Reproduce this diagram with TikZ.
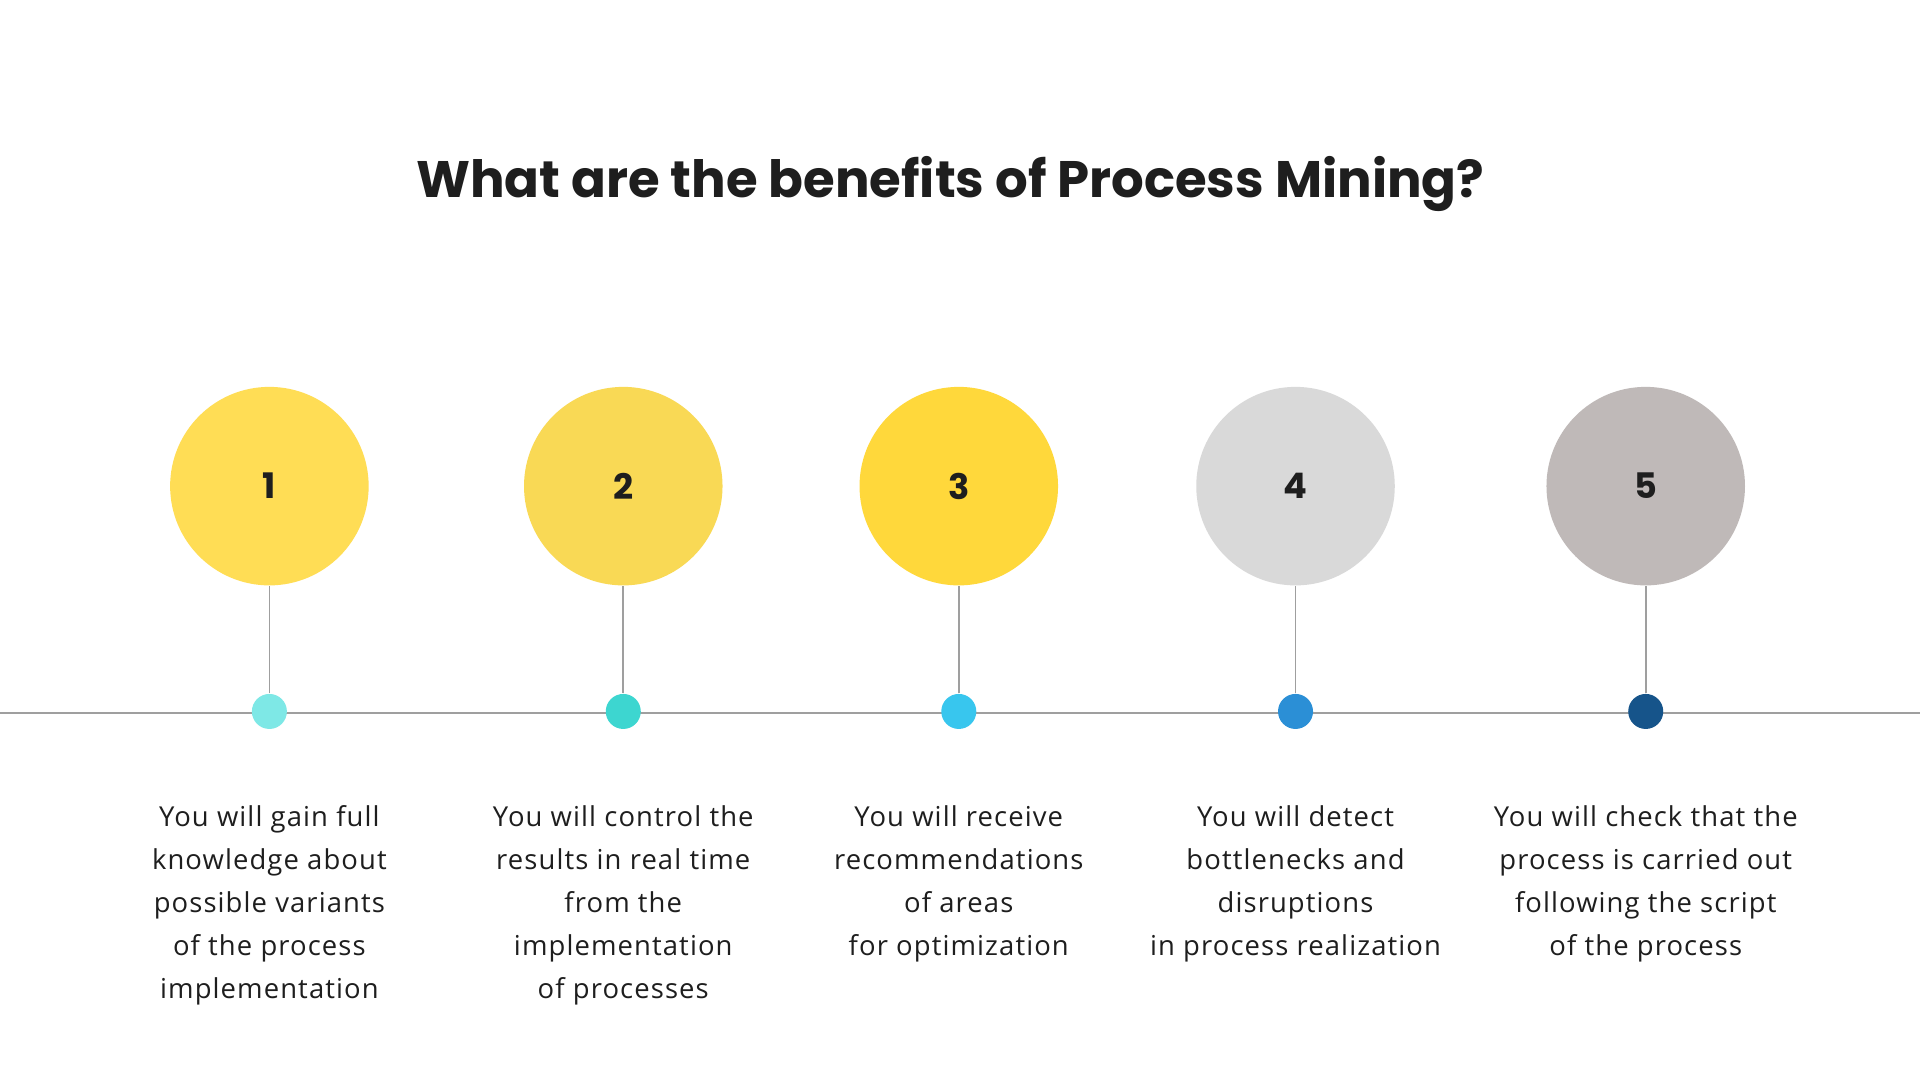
\documentclass[tikz,border=0pt]{standalone}
\usepackage{fontspec}
\setmainfont{Open Sans}
\newfontfamily\titlefont{Poppins}
\usetikzlibrary{positioning}
\definecolor{cOne}{HTML}{FFDD55}
\definecolor{cTwo}{HTML}{F9D955}
\definecolor{cThree}{HTML}{FFD83B}
\definecolor{cFour}{HTML}{D9D9D9}
\definecolor{cFive}{HTML}{BFB9B8}
\definecolor{dOne}{HTML}{7EE8E6}
\definecolor{dTwo}{HTML}{3DD6D0}
\definecolor{dThree}{HTML}{38C6EE}
\definecolor{dFour}{HTML}{2B8FD6}
\definecolor{dFive}{HTML}{16548A}
\definecolor{ink}{HTML}{1E1E1E}

\begin{document}
\begin{tikzpicture}[x=0.012245cm,y=-0.012245cm]
	\tikzset{bubble/.style={circle,minimum size=1.984cm,inner sep=0pt,text=ink,font=\titlefont\bfseries\fontsize{10}{12}\selectfont},
		dot/.style={circle,minimum size=0.35cm,inner sep=0pt},
		stem/.style={draw=gray!75,line width=0.5pt},
		caption/.style={align=center,anchor=north,text=ink,font=\fontsize{7.8}{12.2}\selectfont\addfontfeatures{LetterSpace=4}}}
	\useasboundingbox (0,0) rectangle (1568,882);
	\fill[white] (0,0) rectangle (1568,882);
	\node[text=ink,font=\titlefont\bfseries\fontsize{14.6}{17}\selectfont] (title) at (776,150) {What are the benefits of Process Mining?};
	\coordinate (lineL) at (0,582);
	\coordinate (lineR) at (1568,582);
	\draw[stem] (lineL) -- (lineR);
	\foreach \i/\x/\c/\d/\t in {1/220/cOne/dOne/{You will gain full\\knowledge about\\possible variants\\of the process\\implementation},
		2/509/cTwo/dTwo/{You will control the\\results in real time\\from the\\implementation\\of processes},
		3/783/cThree/dThree/{You will receive\\recommendations\\of areas\\for optimization},
		4/1058/cFour/dFour/{You will detect\\bottlenecks and\\disruptions\\in process realization},
		5/1344/cFive/dFive/{You will check that the\\process is carried out\\following the script\\of the process}}{
		\node[bubble,fill=\c] (b\i) at (\x,397) {\i};
		\node[dot,fill=\d] (d\i) at (\x,581) {};
		\draw[stem] (b\i.south) -- (d\i.north);
		\node[caption] (t\i) at (\x,648) {\t};
	}
\end{tikzpicture}
\end{document}
